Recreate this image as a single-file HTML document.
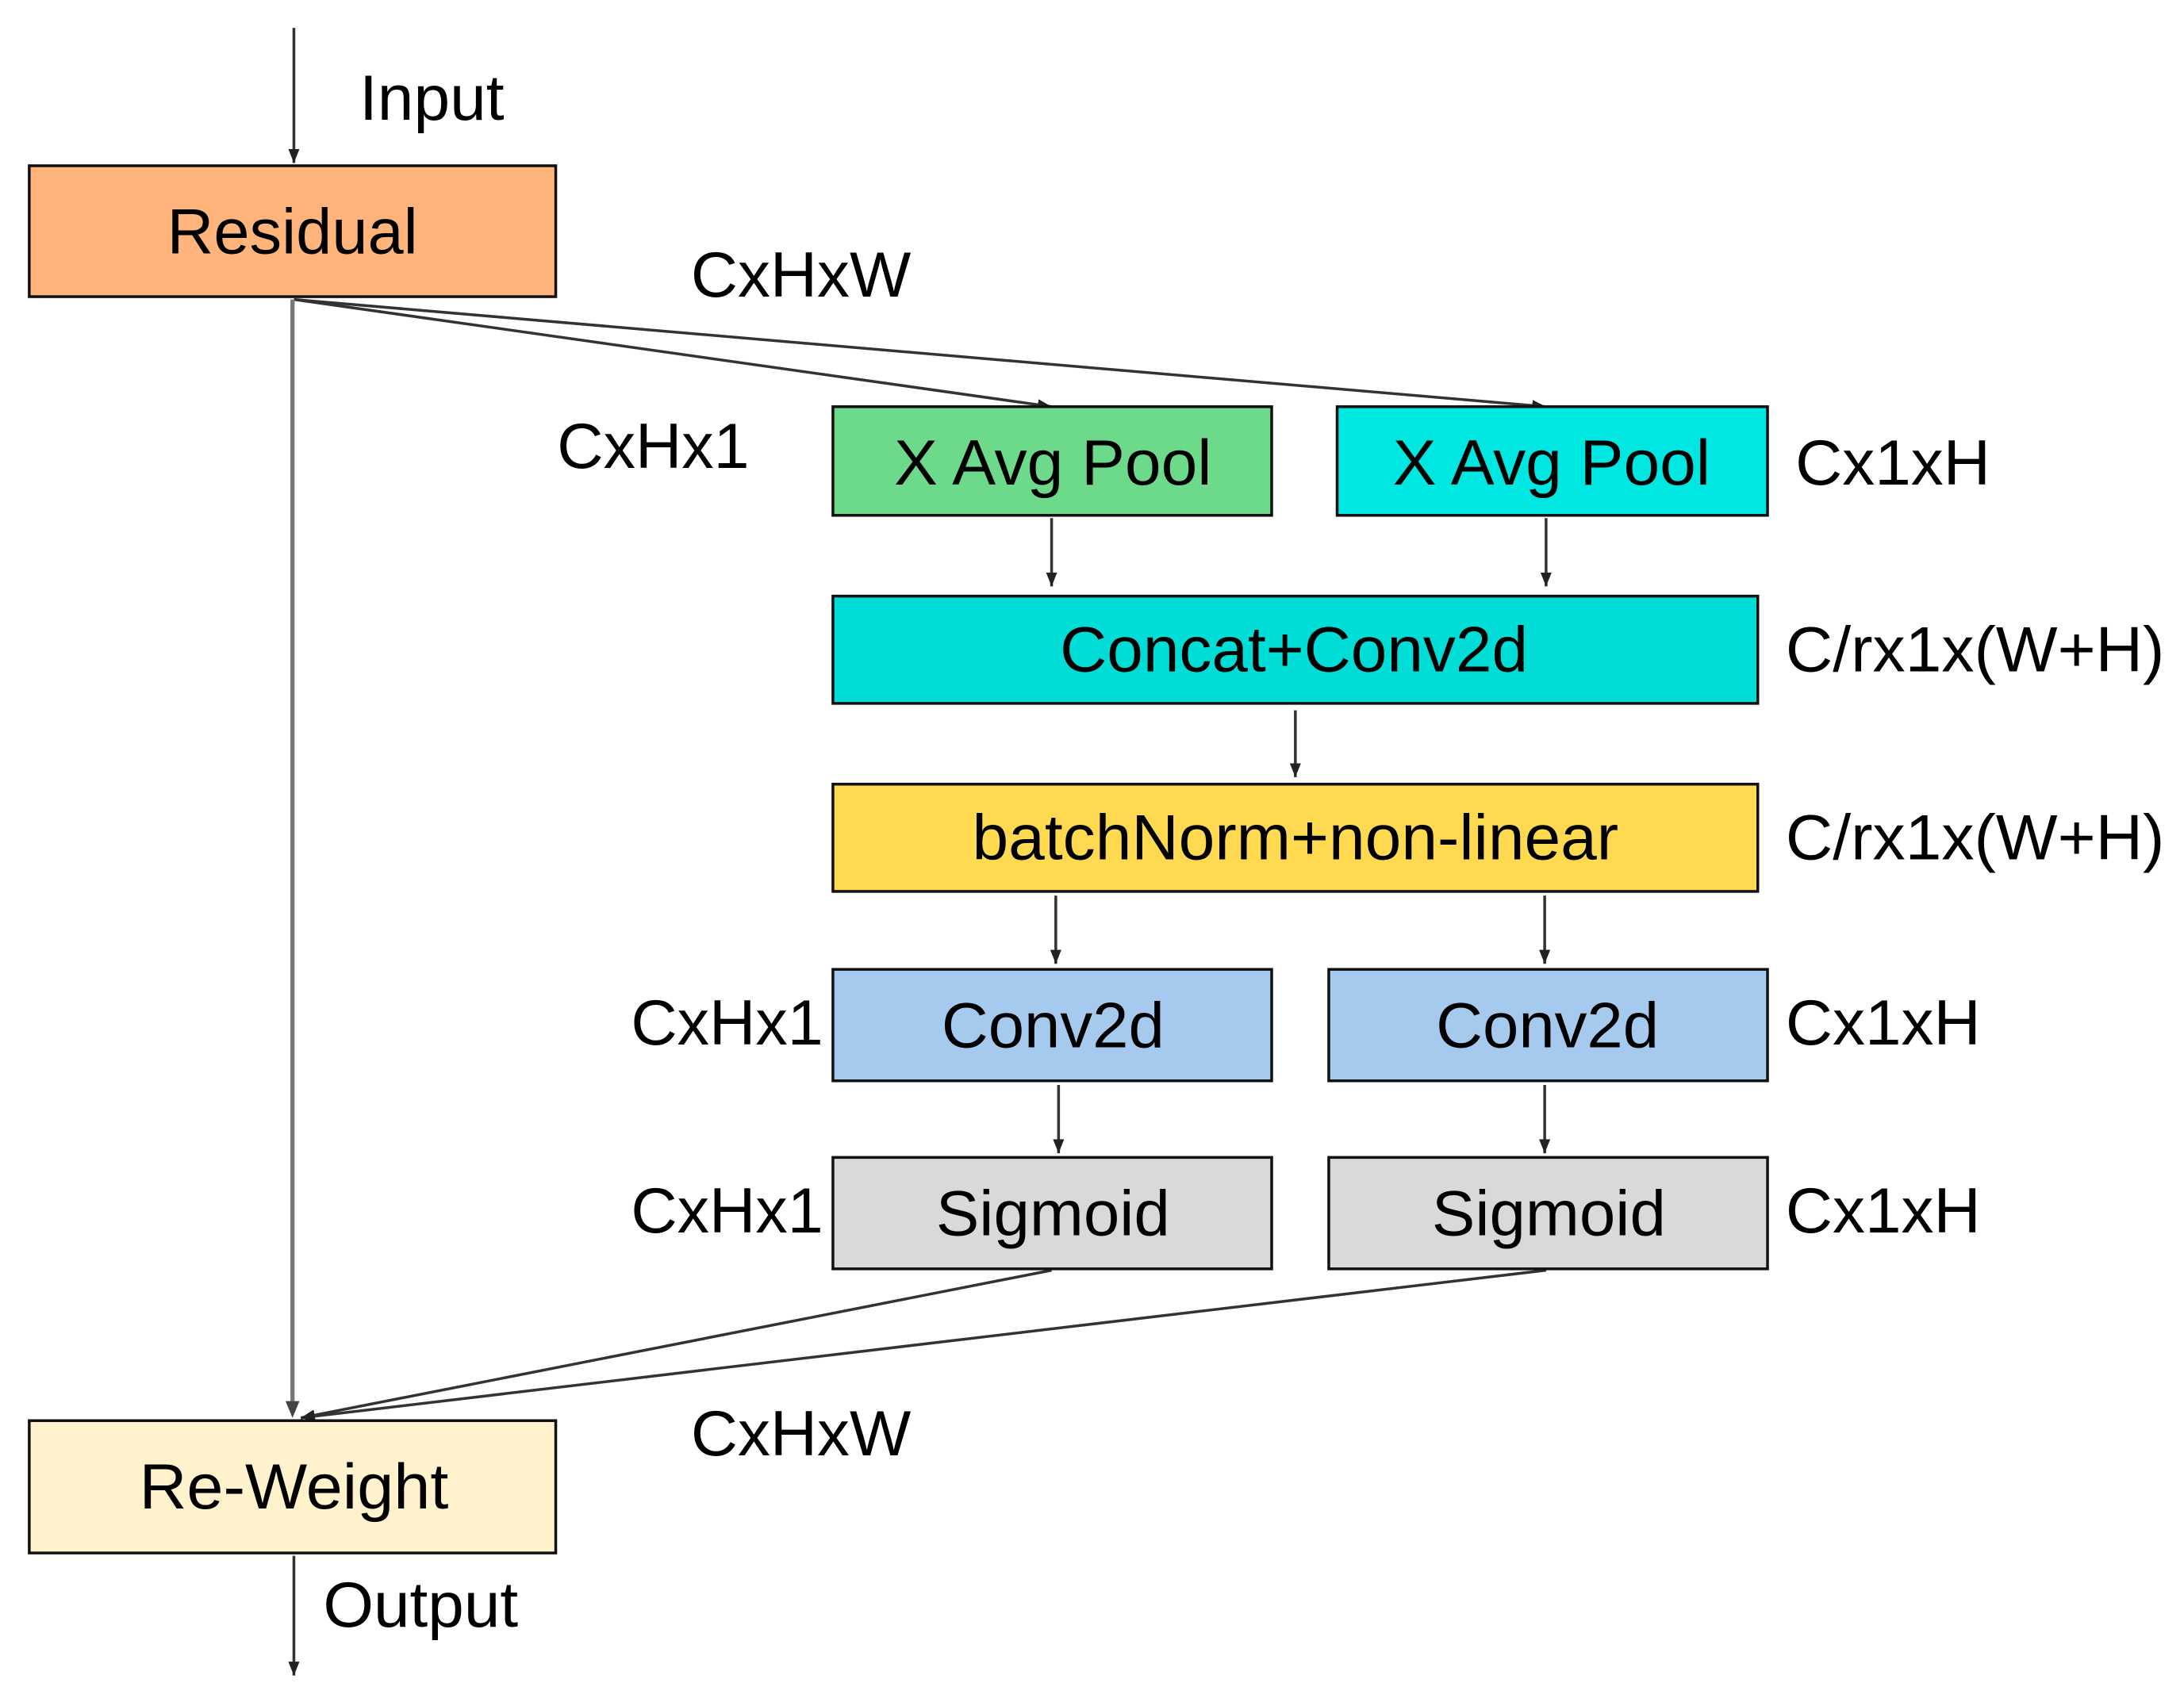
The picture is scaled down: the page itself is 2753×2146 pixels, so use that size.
<!DOCTYPE html>
<html><head><meta charset="utf-8"><style>html,body{margin:0;padding:0;background:#fff}svg{display:block}</style></head>
<body>
<svg width="2753" height="2146" viewBox="0 0 1568 1222" preserveAspectRatio="none" xmlns="http://www.w3.org/2000/svg" font-family="Liberation Sans, Arial, sans-serif" font-size="46">
<defs>
<marker id="a" viewBox="0 0 10 10" refX="10" refY="5" markerWidth="10" markerHeight="10" markerUnits="userSpaceOnUse" orient="auto"><path d="M0,1 L10,5 L0,9 z" fill="#222"/></marker>
</defs>
<g stroke="#333" stroke-width="2" fill="none" marker-end="url(#a)">
<line x1="211" y1="20" x2="211" y2="117"/>
<line x1="211" y1="215" x2="755" y2="292"/>
<line x1="211" y1="215" x2="1110" y2="292"/>
<line x1="755" y1="372" x2="755" y2="421"/>
<line x1="1110" y1="372" x2="1110" y2="421"/>
<line x1="930" y1="510" x2="930" y2="558"/>
<line x1="758" y1="643" x2="758" y2="692"/>
<line x1="1109" y1="643" x2="1109" y2="692"/>
<line x1="760" y1="779" x2="760" y2="828"/>
<line x1="1109" y1="779" x2="1109" y2="828"/>
<line x1="755" y1="912" x2="216" y2="1018"/>
<line x1="1110" y1="912" x2="216" y2="1018"/>
<line x1="211" y1="1117" x2="211" y2="1203"/>
</g>
<line x1="210" y1="215" x2="210" y2="1012" stroke="#777" stroke-width="3"/>
<path d="M205,1006 L210,1018 L215,1006" fill="#444"/>
<g stroke="#111" stroke-width="2">
<rect x="21" y="119" width="378" height="94" fill="#FFB47C"/>
<rect x="598" y="292" width="315" height="78" fill="#6DD98A"/>
<rect x="960" y="292" width="309" height="78" fill="#00E6E0"/>
<rect x="598" y="428" width="664" height="77" fill="#00DDD6"/>
<rect x="598" y="563" width="664" height="77" fill="#FFD94F"/>
<rect x="598" y="696" width="315" height="80" fill="#A6C9EE"/>
<rect x="954" y="696" width="315" height="80" fill="#A6C9EE"/>
<rect x="598" y="831" width="315" height="80" fill="#D9D9D9"/>
<rect x="954" y="831" width="315" height="80" fill="#D9D9D9"/>
<rect x="21" y="1020" width="378" height="95" fill="#FFF2CC"/>
</g>
<g fill="#000">
<text x="258" y="86" textLength="104" lengthAdjust="spacingAndGlyphs">Input</text>
<text x="120" y="182" textLength="180" lengthAdjust="spacingAndGlyphs">Residual</text>
<text x="496" y="213" textLength="158" lengthAdjust="spacingAndGlyphs">CxHxW</text>
<text x="400" y="336" textLength="138" lengthAdjust="spacingAndGlyphs">CxHx1</text>
<text x="642" y="348" textLength="228" lengthAdjust="spacingAndGlyphs">X Avg Pool</text>
<text x="1000" y="348" textLength="228" lengthAdjust="spacingAndGlyphs">X Avg Pool</text>
<text x="1289" y="348" textLength="140" lengthAdjust="spacingAndGlyphs">Cx1xH</text>
<text x="761" y="482" textLength="336" lengthAdjust="spacingAndGlyphs">Concat+Conv2d</text>
<text x="1282" y="482" textLength="272" lengthAdjust="spacingAndGlyphs">C/rx1x(W+H)</text>
<text x="698" y="617" textLength="464" lengthAdjust="spacingAndGlyphs">batchNorm+non-linear</text>
<text x="1282" y="617" textLength="272" lengthAdjust="spacingAndGlyphs">C/rx1x(W+H)</text>
<text x="453" y="750" textLength="138" lengthAdjust="spacingAndGlyphs">CxHx1</text>
<text x="676" y="752" textLength="160" lengthAdjust="spacingAndGlyphs">Conv2d</text>
<text x="1031" y="752" textLength="160" lengthAdjust="spacingAndGlyphs">Conv2d</text>
<text x="1282" y="750" textLength="140" lengthAdjust="spacingAndGlyphs">Cx1xH</text>
<text x="453" y="885" textLength="138" lengthAdjust="spacingAndGlyphs">CxHx1</text>
<text x="672" y="887" textLength="168" lengthAdjust="spacingAndGlyphs">Sigmoid</text>
<text x="1028" y="887" textLength="168" lengthAdjust="spacingAndGlyphs">Sigmoid</text>
<text x="1282" y="885" textLength="140" lengthAdjust="spacingAndGlyphs">Cx1xH</text>
<text x="496" y="1045" textLength="158" lengthAdjust="spacingAndGlyphs">CxHxW</text>
<text x="100" y="1083" textLength="222" lengthAdjust="spacingAndGlyphs">Re-Weight</text>
<text x="232" y="1168" textLength="140" lengthAdjust="spacingAndGlyphs">Output</text>
</g>
</svg>
</body></html>
